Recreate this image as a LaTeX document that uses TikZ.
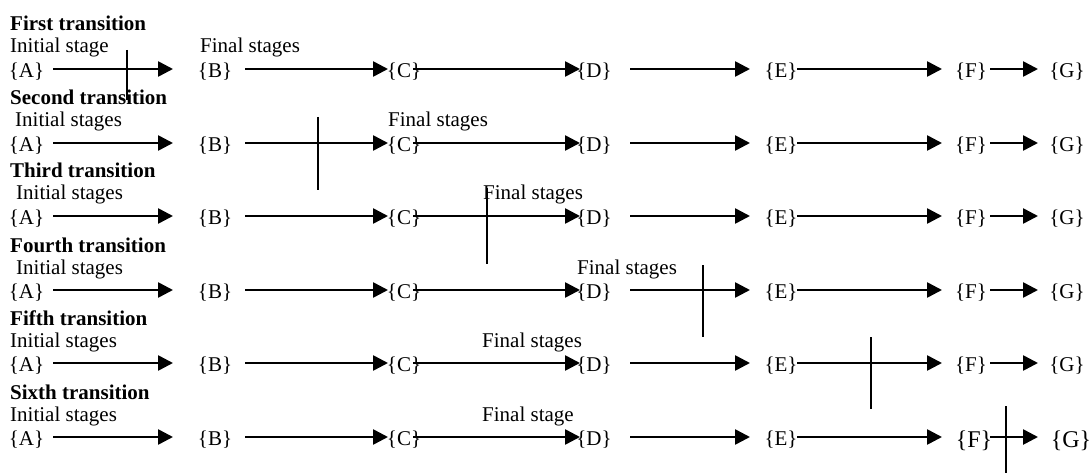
\documentclass[tikz,border=0pt]{standalone}
\usepackage{fontspec}
\setmainfont{Liberation Serif}
\usetikzlibrary{arrows.meta}
\tikzset{
  stage/.style={inner sep=0pt, text height=17pt, text depth=0pt, font=\fontsize{21}{25}\selectfont},
  bigstage/.style={inner sep=0pt, text height=20pt, text depth=0pt, font=\fontsize{24}{28}\selectfont},
  lbl/.style={inner sep=0pt, anchor=base west, font=\fontsize{21}{25}\selectfont},
  ttl/.style={inner sep=0pt, anchor=base west, font=\fontsize{21}{25}\selectfont\bfseries},
  arr/.style={line width=2.6pt, -{Triangle[length=15pt,width=15pt]}},
  cut/.style={line width=2pt},
}
\begin{document}
\begin{tikzpicture}[x=1pt, y=-1pt]
\useasboundingbox (0,0) rectangle (1091,473);
\foreach \r/\y/\ix/\fx/\ini/\fin/\tt/\cx/\ct/\cb in {
  1/69/10/200/{Initial stage}/{Final stages}/First/127/50/100,
  2/143/15/388/{Initial stages}/{Final stages}/Second/318/117/190,
  3/216/16/483/{Initial stages}/{Final stages}/Third/487/188/264,
  4/290/16/577/{Initial stages}/{Final stages}/Fourth/703/265/337,
  5/363/10/482/{Initial stages}/{Final stages}/Fifth/871/337/409,
  6/437/10/482/{Initial stages}/{Final stage}/Sixth/1006/406/473}{
  \node[ttl] (T\r) at (10,\y-38) {\tt{} transition};
  \node[lbl] (I\r) at (\ix,\y-16) {\ini};
  \node[lbl] (L\r) at (\fx,\y-16) {\fin};
  \node[stage] (A\r) at (26.5,\y) {\{A\}};
  \node[stage] (B\r) at (215,\y) {\{B\}};
  \node[stage] (C\r) at (404,\y) {\{C\}};
  \node[stage] (D\r) at (594,\y) {\{D\}};
  \node[stage] (E\r) at (781,\y) {\{E\}};
  \draw[arr] ([xshift=26.5pt]A\r.center) -- ([xshift=-42pt]B\r.center);
  \draw[arr] ([xshift=30pt]B\r.center) -- ([xshift=-16pt]C\r.center);
  \draw[arr] ([xshift=9pt]C\r.center) -- ([xshift=-14pt]D\r.center);
  \draw[arr] ([xshift=36pt]D\r.center) -- ([xshift=-31pt]E\r.center);
  \coordinate (cutT\r) at (\cx,\ct);
  \coordinate (cutB\r) at (\cx,\cb);
  \draw[cut] (cutT\r) -- (cutB\r);
}
\foreach \r/\y in {1/69,2/143,3/216,4/290,5/363}{
  \node[stage] (F\r) at (971,\y) {\{F\}};
  \node[stage] (G\r) at (1067,\y) {\{G\}};
  \draw[arr] ([xshift=16pt]E\r.center) -- ([xshift=-29pt]F\r.center);
  \draw[arr] ([xshift=19pt]F\r.center) -- ([xshift=-29pt]G\r.center);
}
\node[bigstage] (F6) at (974,437) {\{F\}};
\node[bigstage] (G6) at (1071,437) {\{G\}};
\draw[arr] ([xshift=16pt]E6.center) -- ([xshift=-32pt]F6.center);
\draw[arr] ([xshift=16pt]F6.center) -- ([xshift=-33pt]G6.center);
\end{tikzpicture}
\end{document}
